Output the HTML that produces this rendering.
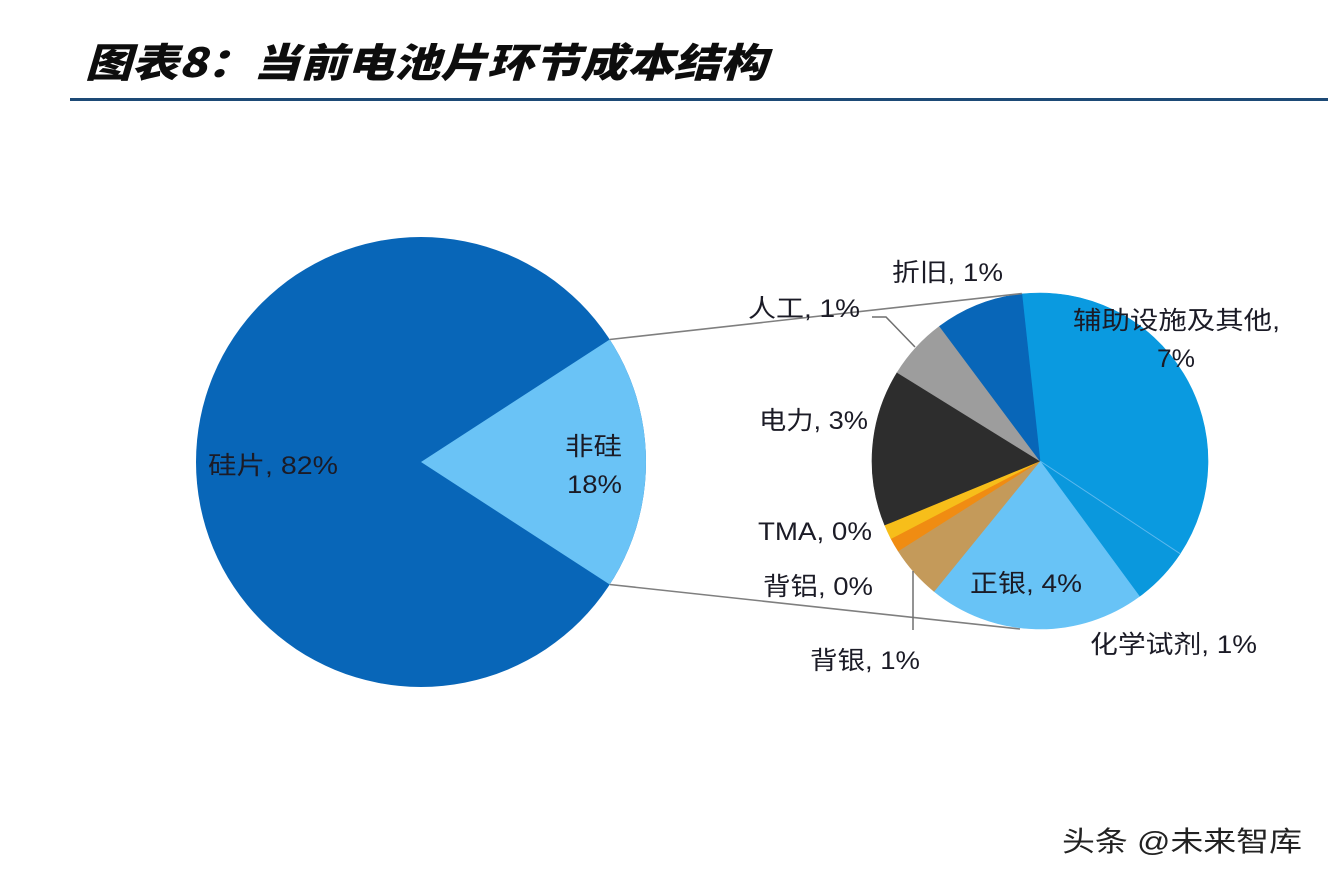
<!DOCTYPE html>
<html>
<head>
<meta charset="utf-8">
<style>
  html, body { margin: 0; padding: 0; background: #ffffff; }
  body { width: 1328px; height: 882px; overflow: hidden; }
  svg { display: block; }
  .lbl { font-family: "Liberation Sans", "Noto Sans CJK SC", sans-serif; font-size: 25px; fill: #1b1b26; }
  .title { font-family: "Noto Sans CJK SC", "Liberation Sans", sans-serif; font-size: 40px; font-weight: 900; font-style: italic; fill: #0d0d0d; }
  .wm { font-family: "Liberation Sans", "Noto Sans CJK SC", sans-serif; font-size: 28px; fill: #222222; }
</style>
</head>
<body>
<svg width="1328" height="882" viewBox="0 0 1328 882" xmlns="http://www.w3.org/2000/svg">
  <rect x="0" y="0" width="1328" height="882" fill="#ffffff"/>

  <!-- Title -->
  <text class="title" x="85" y="77" textLength="682" lengthAdjust="spacingAndGlyphs">图表8：当前电池片环节成本结构</text>
  <rect x="70" y="98" width="1258" height="3" fill="#1d4a76"/>

  <!-- Big pie -->
  <circle cx="421" cy="462" r="225" fill="#0866B8"/>
  <path d="M421,462 L609.7,339.5 A225,225 0 0 1 609.7,584.5 Z" fill="#6AC3F6"/>

  <!-- Small pie -->
  <g stroke-width="0.6">
    <path d="M1040,461 L1021.86,293.98 A168,168 0 0 1 1180.09,553.72 Z" fill="#0A9AE0" stroke="#0A9AE0"/>
    <path d="M1040,461 L1180.09,553.72 A168,168 0 0 1 1139.46,596.39 Z" fill="#0A98DD" stroke="#0A98DD"/>
    <path d="M1040,461 L1139.46,596.39 A168,168 0 0 1 934.04,591.37 Z" fill="#68C3F6" stroke="#68C3F6"/>
    <path d="M1040,461 L934.04,591.37 A168,168 0 0 1 898.16,551.02 Z" fill="#C49A5A" stroke="#C49A5A"/>
    <path d="M1040,461 L898.16,551.02 A168,168 0 0 1 890.98,538.57 Z" fill="#F08C12" stroke="#F08C12"/>
    <path d="M1040,461 L890.98,538.57 A168,168 0 0 1 884.68,525.02 Z" fill="#F7BE1A" stroke="#F7BE1A"/>
    <path d="M1040,461 L884.68,525.02 A168,168 0 0 1 897.22,372.47 Z" fill="#2D2D2D" stroke="#2D2D2D"/>
    <path d="M1040,461 L897.22,372.47 A168,168 0 0 1 939.60,326.30 Z" fill="#9D9D9D" stroke="#9D9D9D"/>
    <path d="M1040,461 L939.60,326.30 A168,168 0 0 1 1021.86,293.98 Z" fill="#0866B8" stroke="#0866B8"/>
  </g>
  <line x1="1040" y1="461" x2="1180.09" y2="553.72" stroke="#5DB8EE" stroke-width="1"/>

  <!-- Connector lines -->
  <line x1="609.7" y1="339.5" x2="1021.86" y2="293.5" stroke="#7f7f7f" stroke-width="1.6"/>
  <line x1="609.7" y1="584.5" x2="1020" y2="629" stroke="#7f7f7f" stroke-width="1.6"/>

  <!-- Leader lines -->
  <polyline points="872,317 886,317 915,347" fill="none" stroke="#6f6f6f" stroke-width="1.5"/>
  <line x1="913" y1="571" x2="913" y2="630" stroke="#6f6f6f" stroke-width="1.5"/>

  <!-- Labels -->
  <text class="lbl" x="208" y="474" textLength="130" lengthAdjust="spacingAndGlyphs">硅片, 82%</text>
  <text class="lbl" x="565" y="455" textLength="57" lengthAdjust="spacingAndGlyphs">非硅</text>
  <text class="lbl" x="567" y="493" textLength="55" lengthAdjust="spacingAndGlyphs">18%</text>

  <text class="lbl" x="892" y="281" textLength="111" lengthAdjust="spacingAndGlyphs">折旧, 1%</text>
  <text class="lbl" x="748" y="317" textLength="112" lengthAdjust="spacingAndGlyphs">人工, 1%</text>
  <text class="lbl" x="759" y="429" textLength="109" lengthAdjust="spacingAndGlyphs">电力, 3%</text>
  <text class="lbl" x="758" y="540" textLength="114" lengthAdjust="spacingAndGlyphs">TMA, 0%</text>
  <text class="lbl" x="763" y="595" textLength="110" lengthAdjust="spacingAndGlyphs">背铝, 0%</text>
  <text class="lbl" x="810" y="669" textLength="110" lengthAdjust="spacingAndGlyphs">背银, 1%</text>
  <text class="lbl" x="970" y="592" textLength="112" lengthAdjust="spacingAndGlyphs">正银, 4%</text>
  <text class="lbl" x="1090" y="653" textLength="167" lengthAdjust="spacingAndGlyphs">化学试剂, 1%</text>
  <text class="lbl" x="1073" y="329" textLength="207" lengthAdjust="spacingAndGlyphs">辅助设施及其他,</text>
  <text class="lbl" x="1157" y="367" textLength="38" lengthAdjust="spacingAndGlyphs">7%</text>

  <!-- Watermark -->
  <text class="wm" x="1062" y="851" textLength="240" lengthAdjust="spacingAndGlyphs">头条 @未来智库</text>
</svg>
</body>
</html>
